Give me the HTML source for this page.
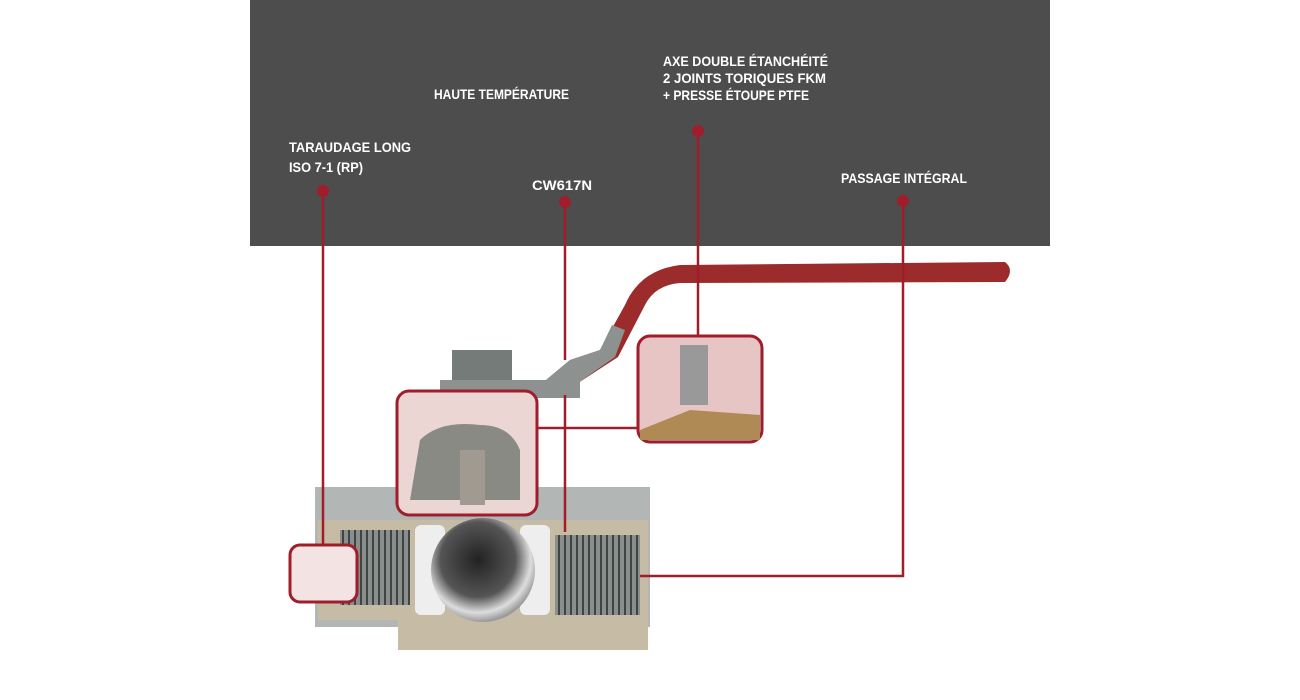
<!DOCTYPE html>
<html><head><meta charset="utf-8"><style>
html,body{margin:0;padding:0;background:#fff;width:1300px;height:700px;overflow:hidden}
svg{display:block}
text{font-family:"Liberation Sans",sans-serif;font-weight:bold;fill:#fff;font-size:14px}
</style></head><body>
<svg width="1300" height="700" viewBox="0 0 1300 700">
<defs>
<radialGradient id="ball" cx="0.45" cy="0.4" r="0.6">
<stop offset="0" stop-color="#222"/><stop offset="0.6" stop-color="#555"/><stop offset="0.85" stop-color="#ddd"/><stop offset="1" stop-color="#999"/>
</radialGradient>
<pattern id="thr" width="6" height="10" patternUnits="userSpaceOnUse">
<rect width="6" height="10" fill="#8a8e8c"/><rect width="2" height="10" fill="#3e4442"/>
</pattern>
</defs>
<rect x="250" y="0" width="800" height="246" fill="#4d4d4d"/>
<text x="289" y="152" textLength="122" lengthAdjust="spacingAndGlyphs">TARAUDAGE LONG</text>
<text x="289" y="172" textLength="74" lengthAdjust="spacingAndGlyphs">ISO 7-1 (RP)</text>
<text x="434" y="99" textLength="135" lengthAdjust="spacingAndGlyphs">HAUTE TEMPÉRATURE</text>
<text x="663" y="66" textLength="165" lengthAdjust="spacingAndGlyphs">AXE DOUBLE ÉTANCHÉITÉ</text>
<text x="663" y="83" textLength="163" lengthAdjust="spacingAndGlyphs">2 JOINTS TORIQUES FKM</text>
<text x="663" y="100" textLength="146" lengthAdjust="spacingAndGlyphs">+ PRESSE ÉTOUPE PTFE</text>
<text x="532" y="190" textLength="60" lengthAdjust="spacingAndGlyphs">CW617N</text>
<text x="841" y="183" textLength="126" lengthAdjust="spacingAndGlyphs">PASSAGE INTÉGRAL</text>

<!-- lever -->
<path d="M540 385 L570 360 L600 350 L625 305 Q640 270 680 265 L1005 262 Q1015 270 1005 282 L680 283 Q655 285 645 305 L618 357 L575 385 Z" fill="#9c2b2b"/>
<path d="M540 385 L570 360 L600 350 L612 325 L625 330 L615 357 L575 385 Z" fill="#8d9290"/>
<rect x="440" y="380" width="140" height="18" fill="#8d9290"/>
<rect x="452" y="350" width="60" height="30" fill="#757b79"/>
<!-- body -->
<rect x="315" y="487" width="335" height="140" fill="#b2b6b4"/>
<rect x="318" y="520" width="330" height="100" fill="#c6bca6"/>
<rect x="398" y="610" width="250" height="40" fill="#c6bca6"/>
<rect x="340" y="530" width="70" height="75" fill="url(#thr)"/>
<rect x="555" y="535" width="85" height="80" fill="url(#thr)"/>
<rect x="415" y="525" width="30" height="90" rx="6" fill="#eeeeee"/>
<rect x="520" y="525" width="30" height="90" rx="6" fill="#eeeeee"/>
<circle cx="483" cy="570" r="52" fill="url(#ball)"/>
<!-- pink callout boxes -->
<rect x="397" y="391" width="140" height="124" rx="12" fill="#ecd6d4" stroke="#a01d2b" stroke-width="3"/>
<path d="M420 440 Q440 420 480 425 Q510 425 520 450 L520 500 L410 500 Z" fill="#8a8a84"/>
<rect x="460" y="450" width="25" height="55" fill="#a09a90"/>
<rect x="638" y="336" width="124" height="106" rx="12" fill="#e6c5c4" stroke="#a01d2b" stroke-width="3"/>
<rect x="680" y="345" width="28" height="60" fill="#999"/>
<path d="M640 430 L690 410 L760 415 L760 440 L640 440 Z" fill="#b08a55"/>
<rect x="290" y="545" width="67" height="57" rx="10" fill="#f3e3e2" stroke="#a01d2b" stroke-width="3"/>
<!-- connectors -->
<g stroke="#a01d2b" stroke-width="2.5" fill="none">
<line x1="323" y1="191" x2="323" y2="545"/>
<line x1="565" y1="202" x2="565" y2="360"/>
<line x1="565" y1="395" x2="565" y2="532"/>
<line x1="698" y1="131" x2="698" y2="336"/>
<polyline points="903,201 903,576 640,576"/>
<line x1="537" y1="428" x2="638" y2="428"/>
</g>
<g fill="#a01d2b">
<circle cx="323" cy="191" r="6"/><circle cx="565" cy="202" r="6"/>
<circle cx="698" cy="131" r="6"/><circle cx="903" cy="201" r="6"/>
</g>
</svg>
</body></html>
